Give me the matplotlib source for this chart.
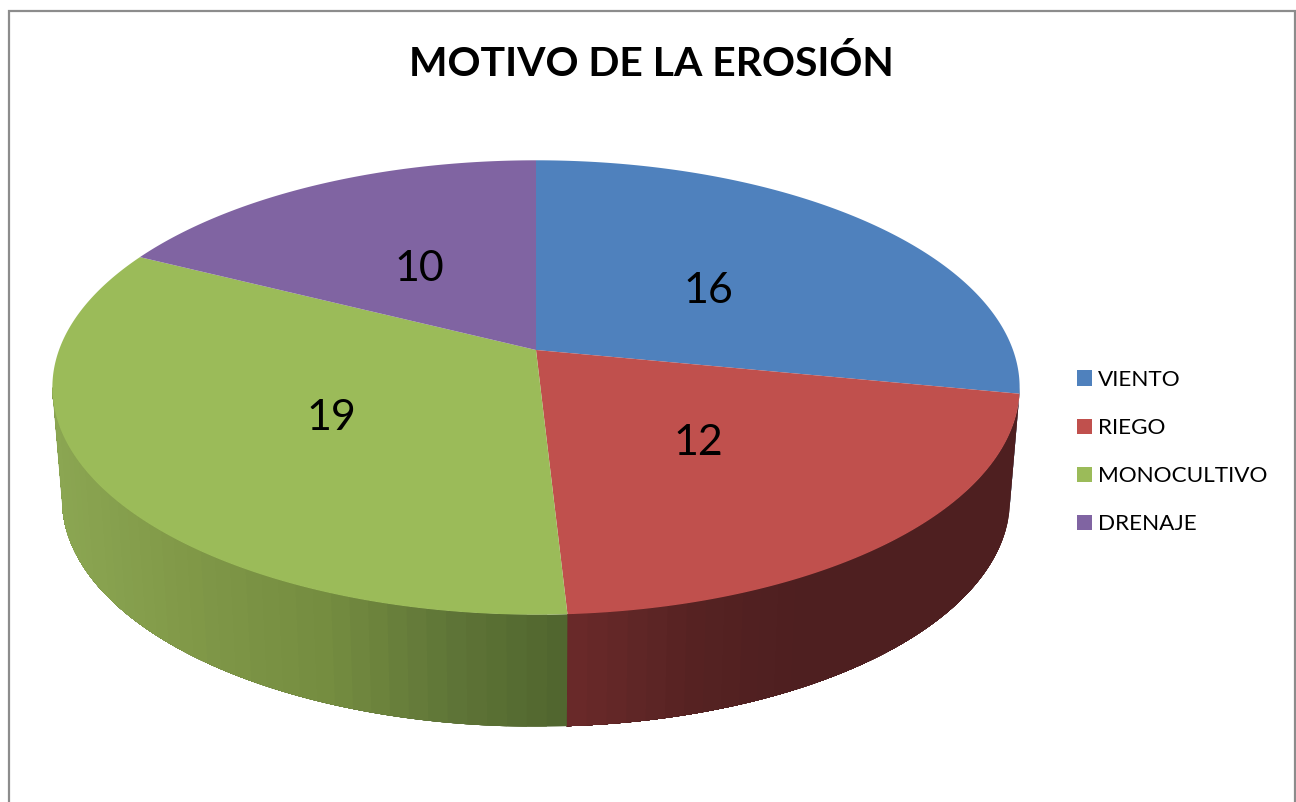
import numpy as np
import matplotlib
matplotlib.use("Agg")
import matplotlib.pyplot as plt
from matplotlib.patches import Polygon, Patch
from matplotlib.colors import to_rgb

# ---- data ----
title = "MOTIVO DE LA EROSIÓN"
categories = ["VIENTO", "RIEGO", "MONOCULTIVO", "DRENAJE"]
values = [16, 12, 19, 10]

# ---- style ----
top_colors = ["#4F81BD", "#C0504D", "#9BBB59", "#8064A2"]
# wall shade stops: (screen x, colour), per category
wall_stops = {
    "VIENTO": [(0, "#2A4A70"), (1296, "#2A4A70")],
    "RIEGO": [(567, "#6B2A2A"), (700, "#552222"), (800, "#4E1F20"), (1296, "#4E1F20")],
    "MONOCULTIVO": [(55, "#8BA652"), (200, "#7F9747"), (330, "#748C40"), (450, "#5F7537"), (567, "#50652E")],
    "DRENAJE": [(0, "#4C3B61"), (1296, "#4C3B61")],
}
label_radius = [0.46, 0.487, 0.49, 0.41]
label_shift = [(11, 3), (0, 7), (0, 6), (-20, -8)]

# ---- layout (pixels) ----
W, H = 1296, 802
CX, CY = 536, 350
A, B, K = 477.0, 221.0, 0.165
DEPTH, WALL_SCALE = 112.0, 0.98


def project(theta, r=1.0):
    """theta clockwise from top, in radians; perspective projection of the disc."""
    u, v = r * np.sin(theta), r * np.cos(theta)
    d = 1 + K * v
    return CX + A * u / d, CY - B * v / d


def project_low(theta):
    x, y = project(theta)
    return CX + (x - CX) * WALL_SCALE, y + DEPTH


fig = plt.figure(figsize=(W / 100, H / 100), dpi=100)
ax = fig.add_axes([0, 0, 1, 1])
ax.set_xlim(0, W)
ax.set_ylim(H, 0)
ax.axis("off")

fracs = np.array(values, dtype=float) / sum(values)
edges = np.concatenate([[0], np.cumsum(fracs)]) * 2 * np.pi

# silhouette angles, where the rim is tangent to the vertical
phi = np.arccos(-K)
wall_from, wall_to = phi, 2 * np.pi - phi


def shade(cat, x):
    stops = wall_stops[cat]
    xs = [s[0] for s in stops]
    rgb = np.array([to_rgb(s[1]) for s in stops])
    return tuple(np.interp(x, xs, rgb[:, i]) for i in range(3))


# side wall: strips painted from the far end, each reaching to the end of its wedge,
# so no background shows through the joins
for i, cat in enumerate(categories):
    t0, t1 = max(edges[i], wall_from), min(edges[i + 1], wall_to)
    if t1 <= t0:
        continue
    n = max(2, int((t1 - t0) / 0.035))
    ts = np.linspace(t0, t1, n + 1)
    for a, b in zip(ts[:-1], ts[1:]):
        arc = np.linspace(a, t1, max(8, int((t1 - a) / 0.01)))
        xu, yu = project(arc)
        xl, yl = project_low(arc)
        pts = list(zip(xu, yu)) + list(zip(xl[::-1], yl[::-1]))
        xm, _ = project(np.array([a, b]))
        col = shade(cat, float(np.mean(xm)))
        ax.add_patch(Polygon(pts, closed=True, facecolor=col, edgecolor="none", zorder=2))

# top wedges
for i, cat in enumerate(categories):
    ts = np.linspace(edges[i], edges[i + 1], 200)
    x, y = project(ts)
    pts = [(CX, CY)] + list(zip(x, y))
    ax.add_patch(Polygon(pts, closed=True, facecolor=top_colors[i], edgecolor="none", zorder=3))

# data labels
for i, val in enumerate(values):
    lx, ly = project((edges[i] + edges[i + 1]) / 2, label_radius[i])
    ax.text(lx + label_shift[i][0], ly + label_shift[i][1], str(val), ha="center", va="center",
            fontsize=31, family=["Lato", "DejaVu Sans"], color="black", zorder=4)

# title
ax.text(651.5, 64, title, ha="center", va="center", fontsize=29.4, fontweight="bold",
        family=["Lato", "DejaVu Sans"], color="black")

# chart frame (open at the bottom edge of the crop)
ax.plot([8.5, 8.5, 1294.5, 1294.5], [H, 10.5, 10.5, H], color="#8C8C8C", lw=1.6,
        solid_joinstyle="miter", clip_on=False, zorder=5)

# legend
handles = [Patch(facecolor=c, edgecolor="none") for c in top_colors]
leg = ax.legend(handles, categories, loc="upper left", bbox_to_anchor=(1077 / W, 1 - 370 / H),
                bbox_transform=fig.transFigure, frameon=False, borderpad=0, borderaxespad=0,
                prop={"family": "Lato", "size": 16.2}, handlelength=0.667, handleheight=0.667,
                handletextpad=0.27, labelspacing=1.25)

fig.savefig("out.png", dpi=100, facecolor="white")
